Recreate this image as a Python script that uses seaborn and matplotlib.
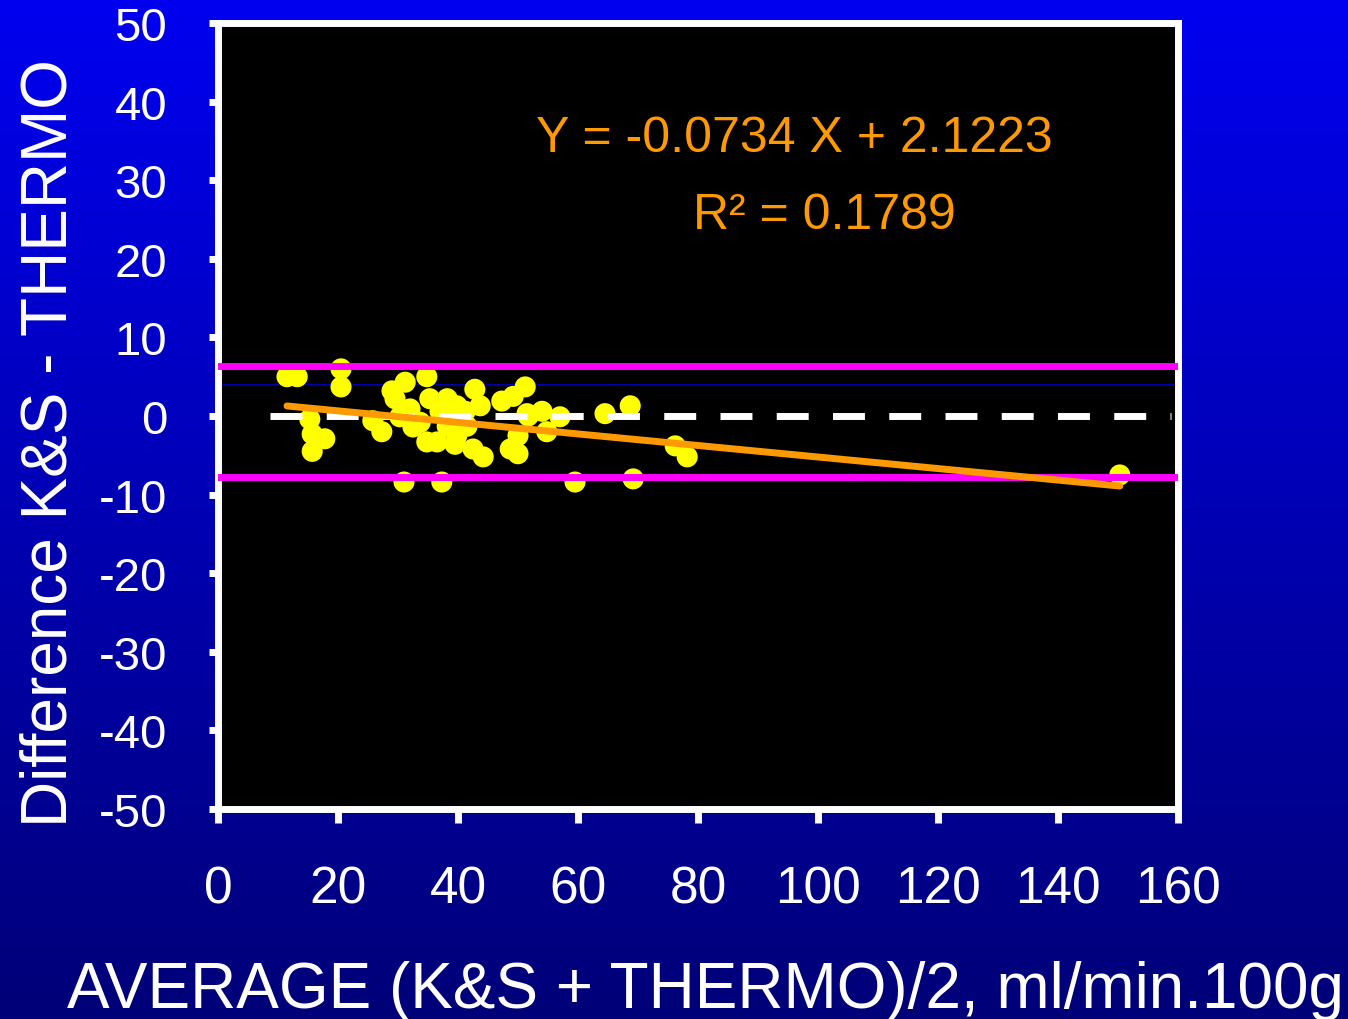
import matplotlib
matplotlib.use("Agg")
import matplotlib.pyplot as plt
import numpy as np
import pandas as pd
import seaborn as sns

# Bland-Altman style data: average vs difference
avg = [11.5, 13.2, 20.5, 20.5, 15.3, 15.7, 17.8, 15.7, 25.8, 27.3,
       31.2, 34.8, 29.0, 29.5, 42.8, 51.2, 49.2, 47.3, 32.0, 35.3,
       38.2, 39.8, 43.7, 34.8, 36.5, 39.8, 38.2, 33.7, 42.5, 44.2,
       48.7, 50.0, 50.0, 51.5, 41.5, 54.0, 51.7, 57.0, 54.8, 64.5,
       68.7, 76.2, 78.2, 59.5, 69.2, 31.0, 37.3, 150.3, 32.5, 37.0,
       41.2, 30.3, 39.5]
diff = [5.0, 5.0, 6.0, 3.7, -0.4, -2.3, -2.9, -4.5, -0.6, -2.0,
        4.3, 5.0, 3.2, 2.2, 3.4, 3.7, 2.5, 1.9, 0.9, 2.2,
        2.2, 1.3, 1.3, -3.3, -3.3, -2.5, -1.3, -0.8, -4.2, -5.2,
        -4.2, -4.8, -2.5, 0.3, -1.3, 0.6, 0.0, -0.1, -2.0, 0.3,
        1.3, -3.8, -5.2, -8.4, -8.0, -8.4, -8.4, -7.5, -1.4, 0.6,
        0.6, -0.1, -3.6]

slope = -0.0734
intercept = 2.1223
r_squared = 0.1789
upper_limit = 6.3
lower_limit = -7.8
ref_line = 4.1

x_ticks = [0, 20, 40, 60, 80, 100, 120, 140, 160]
y_ticks = [50, 40, 30, 20, 10, 0, -10, -20, -30, -40, -50]

sns.set_style("dark")
plt.rcParams["font.family"] = ["Liberation Sans", "DejaVu Sans"]
plt.rcParams["axes.unicode_minus"] = False

df = pd.DataFrame({"avg": avg, "diff": diff})
fit_x = np.array([min(avg), max(avg)])
fit_df = pd.DataFrame({"avg": fit_x, "diff": slope * fit_x + intercept})

fig = plt.figure(figsize=(13.48, 10.2), dpi=100)

# blue gradient background
bg = fig.add_axes([0, 0, 1, 1], zorder=-10)
grad = np.linspace(0, 1, 256).reshape(-1, 1)
top = np.array([0.0, 0.0, 0.94])
bottom = np.array([0.0, 0.0, 0.47])
img = top + (bottom - top) * grad[:, :, None]
bg.imshow(img, aspect="auto", extent=[0, 1, 0, 1])
bg.set_axis_off()

ax = fig.add_axes([218 / 1348, 210 / 1020, 960 / 1348, 786 / 1020])
ax.set_facecolor("black")

sns.scatterplot(data=df, x="avg", y="diff", color="#FFFF00", s=230,
                edgecolor="none", ax=ax, zorder=2)
ax.axhline(ref_line, color="#0000AA", lw=0.8, zorder=1)
ax.axhline(upper_limit, color="#FF00FF", lw=5, zorder=3)
ax.axhline(lower_limit, color="#FF00FF", lw=5, zorder=3)
ax.plot([8.7, 158.8], [0, 0], color="white", lw=5, dashes=(4.6, 3.5), zorder=3)
sns.lineplot(data=fit_df, x="avg", y="diff", color="#FF9900", lw=5, ax=ax, zorder=4)

ax.text(96.0, 35.4, f"Y = {slope} X + {intercept}", color="#FF9900",
        fontsize=36, ha="center", va="center")
ax.text(101.0, 25.6, f"R² = {r_squared}", color="#FF9900",
        fontsize=36, ha="center", va="center")

ax.set_xlim(0, 160)
ax.set_ylim(-50, 50)
ax.set_xticks(x_ticks)
ax.set_yticks(y_ticks)
ax.grid(False)
for side in ["left", "right", "top", "bottom"]:
    ax.spines[side].set_visible(True)
    ax.spines[side].set_color("white")
    ax.spines[side].set_linewidth(5)
ax.tick_params(axis="x", colors="white", labelsize=37, length=10, width=5,
               pad=30, direction="out", bottom=True)
ax.tick_params(axis="y", colors="white", labelsize=34, length=6.5, width=5,
               pad=30, direction="out", left=True)

ax.set_xlabel("AVERAGE (K&S + THERMO)/2, ml/min.100g", color="white", fontsize=46)
ax.set_ylabel("Difference K&S - THERMO", color="white", fontsize=46)
ax.xaxis.set_label_coords(0.508, -0.192)
ax.yaxis.set_label_coords(-0.144, 0.467)

fig.savefig("out.png", dpi=100)
